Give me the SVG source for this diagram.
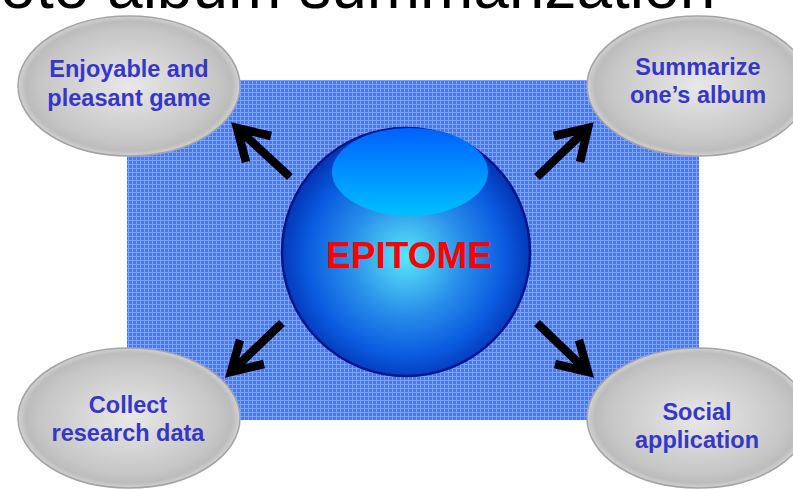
<svg xmlns="http://www.w3.org/2000/svg" width="793" height="489" viewBox="0 0 793 489">
<style>
.lbl{font-family:"Liberation Sans",Arial,sans-serif;font-weight:bold;font-size:23.5px;fill:#3636c8;text-anchor:middle}
.bub{fill:url(#gray);stroke:#a4a4a4;stroke-width:1.5}
.arr{fill:none;stroke:#000;stroke-width:8.5;stroke-linejoin:miter;stroke-miterlimit:10}
</style>
<defs>
<pattern id="grid" width="4" height="4" patternUnits="userSpaceOnUse">
<rect width="4" height="4" fill="#4677f6"/>
<rect width="1" height="4" fill="#7ea2fb"/>
<rect width="4" height="1" fill="#7ea2fb"/>
</pattern>
<radialGradient id="gray" cx="0.5" cy="0.5" r="0.5">
<stop offset="0" stop-color="#e8e8e8"/>
<stop offset="0.8" stop-color="#c6c6c6"/>
<stop offset="0.93" stop-color="#bcbcbc"/>
<stop offset="1" stop-color="#d2d2d2"/>
</radialGradient>
<radialGradient id="sphere" cx="0.5" cy="0.52" r="0.5">
<stop offset="0" stop-color="#5ae8f8"/>
<stop offset="0.45" stop-color="#2a90ea"/>
<stop offset="0.8" stop-color="#0a5ae0"/>
<stop offset="1" stop-color="#0438b8"/>
</radialGradient>
<linearGradient id="hl" x1="0" y1="0" x2="0" y2="1">
<stop offset="0" stop-color="#0060ff"/>
<stop offset="1" stop-color="#00c0ff"/>
</linearGradient>
</defs>
<text x="-78" y="8" font-family="Liberation Sans, Arial, sans-serif" font-size="64" fill="#000">Photo album summarization</text>
<rect x="127" y="80" width="572" height="340" fill="url(#grid)"/>
<g id="connectors">
<path class="arr" d="M290,177 L237,128 M271,136 L237,128 L246,162"/>
<path class="arr" d="M537,177 L588,128 M554,136 L588,128 L580,162"/>
<path class="arr" d="M282,323 L231,372 M240,340 L231,372 L264,364"/>
<path class="arr" d="M537,323 L588,372 M579,340 L588,372 L555,364"/>
</g>
<g id="epitome">
<circle cx="406" cy="252" r="124" fill="url(#sphere)" stroke="#00148a" stroke-width="2.5"/>
<ellipse cx="410" cy="172" rx="78" ry="44" fill="url(#hl)"/>
<text x="409" y="268" font-family="Liberation Sans, Arial, sans-serif" font-weight="bold" font-size="37" fill="#ff0000" text-anchor="middle">EPITOME</text>
</g>
<g id="game">
<ellipse class="bub" cx="129" cy="86" rx="111" ry="70"/>
<text class="lbl" x="129" y="77">Enjoyable and</text>
<text class="lbl" x="129" y="106">pleasant game</text>
</g>
<g id="summarize">
<ellipse class="bub" cx="698" cy="86" rx="111" ry="70"/>
<text class="lbl" x="698" y="75">Summarize</text>
<text class="lbl" x="698" y="103">one’s album</text>
</g>
<g id="research">
<ellipse class="bub" cx="129" cy="418" rx="111" ry="70"/>
<text class="lbl" x="128" y="413">Collect</text>
<text class="lbl" x="128" y="441">research data</text>
</g>
<g id="social">
<ellipse class="bub" cx="698" cy="418" rx="111" ry="70"/>
<text class="lbl" x="697" y="420">Social</text>
<text class="lbl" x="697" y="448">application</text>
</g>
</svg>
